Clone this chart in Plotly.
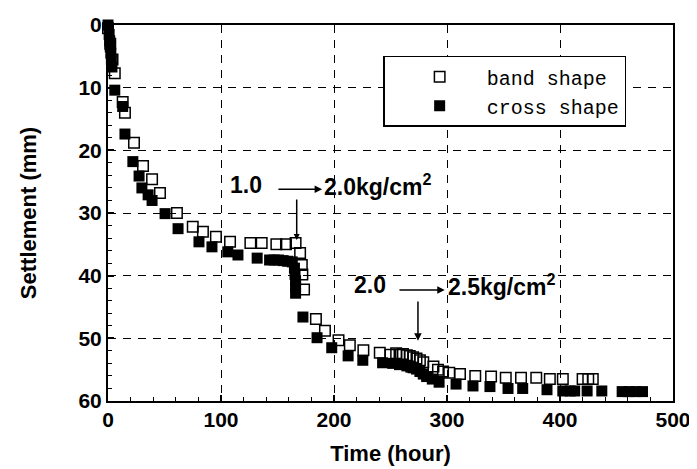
import plotly.graph_objects as go

# Band shape (open squares)
band_t = [0, 2, 4, 6, 13, 15, 23, 31, 39, 46, 61, 75, 84, 95.5, 108, 126, 136, 149, 157.5, 166,
          170, 171.5, 172, 173.5, 184, 192, 204, 214, 226, 240.5, 250, 255, 258, 261, 264.5, 267,
          270, 273, 276, 279, 288, 292, 296.5, 302, 311.5, 325, 339, 352, 365.5, 379, 391, 402.5,
          420, 425, 429]
band_s = [0.5, 3, 5.5, 7.7, 12.3, 14, 18.8, 22.5, 24.6, 26.8, 30, 32.2, 33, 33.8, 34.6, 34.8, 34.8, 35, 35, 34.8,
          36.4, 38.3, 39.8, 42.2, 46.9, 48.8, 50.3, 51.1, 51.9, 52.3, 52.6, 52.4, 52.6, 52.5, 52.7, 52.8,
          53, 53.2, 53.5, 53.8, 54.5, 55, 55.3, 55.5, 55.7, 56, 56.1, 56.3, 56.3, 56.3, 56.5, 56.5,
          56.5, 56.5, 56.5]

# Cross shape (filled squares)
cross_t = [0, 1, 1.5, 2, 2.5, 3, 3.5, 6, 13, 15, 22, 27.5, 30, 35.5, 39, 50.5, 62, 80.5, 92, 106, 115, 132,
           143, 147, 151, 155, 159, 163, 165, 165.5, 166, 166, 166,
           172.5, 185, 198, 212.5, 225.5, 243, 252, 258, 264.5, 268, 270, 273, 276, 279, 282, 287, 293,
           308, 323, 338, 354, 367, 388.5, 402.5, 409, 413, 424, 437, 455, 461, 467, 473]
cross_s = [0, 1.5, 2.5, 3.5, 4.5, 5.5, 6.7, 10.4, 13, 17.4, 21.8, 24.1, 26, 27.1, 28, 30.1, 32.5, 34.6, 35.4, 36.2, 36.7, 37.2,
           37.5, 37.5, 37.5, 37.6, 37.7, 37.8, 38.8, 39.8, 40.8, 41.8, 42.8,
           46.6, 49.9, 51.5, 52.8, 53.5, 53.9, 54, 54.2, 54.4, 54.6, 54.7, 54.9, 55.3, 55.7, 56.1, 56.5, 57,
           57.3, 57.6, 57.7, 58, 58, 58.2, 58.4, 58.4, 58.4, 58.4, 58.4, 58.5, 58.5, 58.5, 58.5]

x_ticks = [0, 100, 200, 300, 400, 500]
y_ticks = [0, 10, 20, 30, 40, 50, 60]

tick_font = dict(family="Liberation Sans", size=21, color="black", weight="bold")
title_font = dict(family="Liberation Sans", size=22, color="black", weight="bold")

fig = go.Figure()
fig.add_trace(go.Scatter(
    x=band_t, y=band_s, mode="markers", name="band shape",
    marker=dict(symbol="square-open", size=10.5, color="black", line=dict(width=1.5)),
    cliponaxis=False))
fig.add_trace(go.Scatter(
    x=cross_t, y=cross_s, mode="markers", name="cross shape",
    marker=dict(symbol="square", size=11, color="black"),
    cliponaxis=False))

axis_common = dict(
    showline=True, linecolor="black", linewidth=2, mirror=True,
    ticks="inside", ticklen=6, tickwidth=1.5, tickcolor="black",
    showgrid=True, gridcolor="black", gridwidth=1, griddash="8px,7px",
    zeroline=False, tickfont=tick_font, automargin=False,
)

fig.update_xaxes(range=[0, 500], tickvals=x_ticks, ticklabelstandoff=-1,
                 minor=dict(dtick=20, ticks="inside", ticklen=4, tickcolor="black", tickwidth=1.2),
                 title=dict(text="Time (hour)", font=title_font, standoff=15),
                 **axis_common)
fig.update_yaxes(range=[60, 0], tickvals=y_ticks,
                 minor=dict(dtick=2, ticks="inside", ticklen=4, tickcolor="black", tickwidth=1.2),
                 title=dict(text="Settlement (mm)", font=title_font, standoff=36),
                 **axis_common)

ann_font = dict(family="Liberation Sans", size=23, color="black", weight="bold")
arrow = dict(xref="x", yref="y", axref="x", ayref="y", showarrow=True,
             arrowhead=2, arrowwidth=1.5, arrowcolor="black", text="")
annotations = [
    dict(x=122, y=25.5, text="1.0", showarrow=False, font=ann_font),
    dict(x=189, y=25.5, text="2.0kg/cm<sup>2</sup>", showarrow=False, font=ann_font, xanchor="left"),
    dict(x=189.5, y=26.2, ax=149.5, ay=26.2, arrowsize=1, **arrow),
    dict(x=167, y=34.3, ax=167, ay=27.6, arrowsize=0.8, **arrow),
    dict(x=232, y=41.5, text="2.0", showarrow=False, font=ann_font),
    dict(x=299, y=41.5, text="2.5kg/cm<sup>2</sup>", showarrow=False, font=ann_font, xanchor="left"),
    dict(x=298, y=42.3, ax=256.6, ay=42.3, arrowsize=1, **arrow),
    dict(x=274.3, y=50.4, ax=274.3, ay=43.9, arrowsize=1, **arrow),
]

# page body has an 8px default margin, so the figure is sized to fit inside the window
fig.update_layout(
    width=689, height=461,
    margin=dict(l=100, r=24, t=17, b=68),
    plot_bgcolor="white", paper_bgcolor="white",
    annotations=annotations,
    showlegend=True,
    legend=dict(x=0.487, y=0.918, xanchor="left", yanchor="top",
                bgcolor="white", bordercolor="black", borderwidth=1.5,
                font=dict(family="Liberation Mono", size=20, color="black"),
                itemwidth=84, indentation=8, tracegroupgap=0),
)

fig.write_html("out.html")
